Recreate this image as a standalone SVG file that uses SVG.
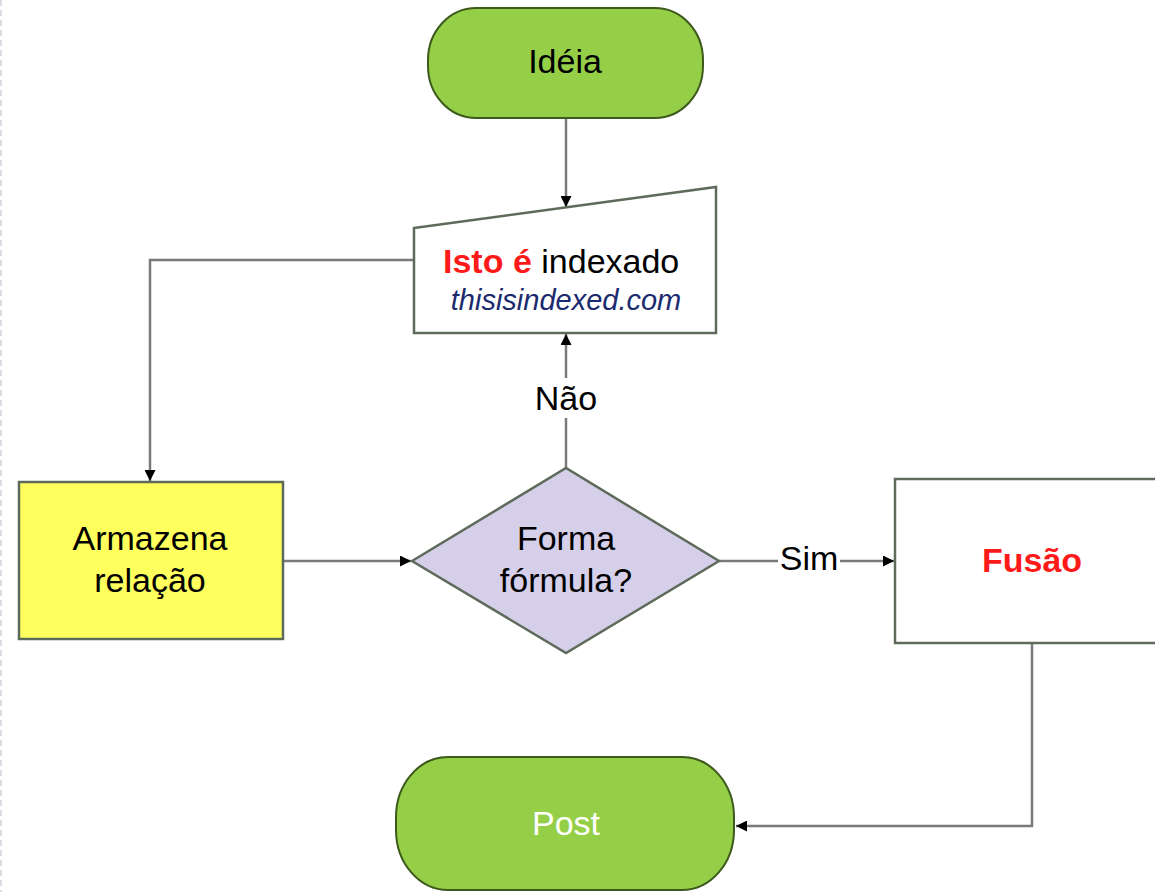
<svg xmlns="http://www.w3.org/2000/svg" width="1155" height="892" viewBox="0 0 1155 892">
<defs>
<marker id="arr" viewBox="0 0 10 10" refX="10" refY="5" markerWidth="11" markerHeight="11" markerUnits="userSpaceOnUse" orient="auto">
<path d="M0,0 L10,5 L0,10 z" fill="#000"/>
</marker>
<style>
.t{font-family:"Liberation Sans",Arial,sans-serif;font-size:34px;fill:#000;text-anchor:middle}
.pill{fill:#95cf48;stroke:#3d5a1c;stroke-width:2}
.box{stroke:#5f6b5a;stroke-width:2.5}
.con{fill:none;stroke:#7a7a7a;stroke-width:2.5}
.lbl{fill:#fff}
</style>
</defs>
<rect width="1155" height="892" fill="#fff"/>
<line x1="1" y1="0" x2="1" y2="892" stroke="#d8dde3" stroke-width="2" stroke-dasharray="6,4"/>
<g id="connectors">
<line class="con" x1="566" y1="118" x2="566" y2="207" marker-end="url(#arr)"/>
<polyline class="con" points="414,260 150,260 150,481" marker-end="url(#arr)"/>
<line class="con" x1="283" y1="561" x2="411" y2="561" marker-end="url(#arr)"/>
<line class="con" x1="566" y1="468" x2="566" y2="334" marker-end="url(#arr)"/>
<line class="con" x1="719" y1="561" x2="894" y2="561" marker-end="url(#arr)"/>
<polyline class="con" points="1032,643 1032,826 736,826" marker-end="url(#arr)"/>
<rect class="lbl" x="530" y="378" width="72" height="40"/>
<text class="t" x="566" y="410">Não</text>
<rect class="lbl" x="778" y="542" width="62" height="38"/>
<text class="t" x="809" y="570">Sim</text>
</g>
<g id="ideia">
<rect class="pill" x="428" y="8" width="275" height="110" rx="48" ry="52"/>
<text class="t" x="565" y="73">Idéia</text>
</g>
<g id="indexado">
<polygon class="box" fill="#fff" points="414,228 716,187 716,333 414,333"/>
<text x="443" y="273" style="font-family:'Liberation Sans',Arial,sans-serif;font-size:34px"><tspan font-weight="bold" fill="#ff1a1a">Isto é</tspan><tspan fill="#000"> indexado</tspan></text>
<text x="566" y="310" style="font-family:'Liberation Sans',Arial,sans-serif;font-size:29px;font-style:italic;fill:#1c2a6e;text-anchor:middle">thisisindexed.com</text>
</g>
<g id="armazena">
<rect class="box" x="19" y="482" width="264" height="157" fill="#ffff5e"/>
<text class="t" x="150" y="550">Armazena</text>
<text class="t" x="150" y="592">relação</text>
</g>
<g id="forma">
<polygon class="box" fill="#d6cfe9" points="412,561 566,468 719,561 566,653"/>
<text class="t" x="566" y="550">Forma</text>
<text class="t" x="566" y="592">fórmula?</text>
</g>
<g id="fusao">
<rect class="box" x="895" y="479" width="270" height="164" fill="#fff"/>
<text class="t" x="1032" y="572" style="font-weight:bold;fill:#ff1a1a">Fusão</text>
</g>
<g id="post">
<rect class="pill" x="396" y="757" width="338" height="133" rx="52" ry="60"/>
<text class="t" x="566" y="835" style="fill:#fff">Post</text>
</g>
</svg>
